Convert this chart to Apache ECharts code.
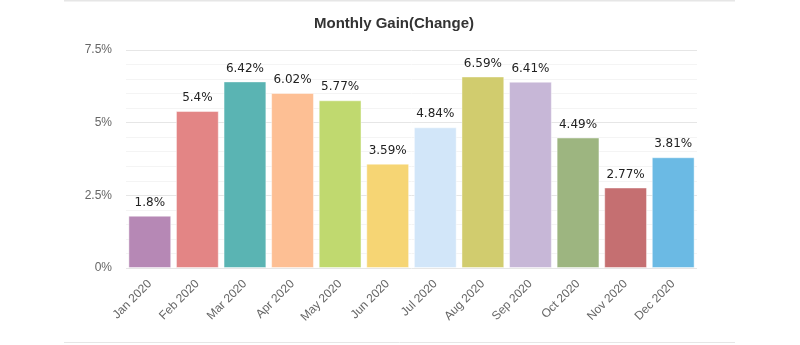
<!DOCTYPE html>
<html><head><meta charset="utf-8">
<script src="https://cdn.jsdelivr.net/npm/echarts@6/dist/echarts.min.js"></script>
<style>html,body{margin:0;padding:0;background:#fff}#c{width:800px;height:345px}</style>
</head><body><div id="c"></div>
<script>
const categories = ["Jan 2020","Feb 2020","Mar 2020","Apr 2020","May 2020","Jun 2020","Jul 2020","Aug 2020","Sep 2020","Oct 2020","Nov 2020","Dec 2020"];
const gains = [1.8, 5.4, 6.42, 6.02, 5.77, 3.59, 4.84, 6.59, 6.41, 4.49, 2.77, 3.81];
const barColors = ["#b688b5","#e38585","#5ab4b3","#fdbf94","#c0d96f","#f6d574","#d2e6f9","#d1cc6e","#c7b7d7","#9db580","#c56f71","#6bbae4"];
const yTicks = [0, 2.5, 5, 7.5];

const chart = echarts.init(document.getElementById('c'), null, {renderer:'canvas'});
chart.setOption({
  animation:false,
  title:{text:'Monthly Gain(Change)', left:309, top:11,
    textStyle:{fontFamily:'Liberation Sans, Arial', fontSize:15, fontWeight:'bold', color:'#333'}},
  graphic:[
    {type:'line', shape:{x1:64,y1:0.5,x2:735,y2:0.5}, style:{stroke:'#e6e6e6', lineWidth:2}},
    {type:'line', shape:{x1:64,y1:342.5,x2:735,y2:342.5}, style:{stroke:'#e6e6e6', lineWidth:1}}
  ],
  grid:{left:126, right:103, top:50, bottom:77},
  xAxis:{type:'category', data:categories,
    axisLine:{show:false}, axisTick:{show:false},
    axisLabel:{rotate:45, color:'#666', fontFamily:'Liberation Sans, Arial', fontSize:12, margin:14, interval:0}},
  yAxis:{type:'value', min:yTicks[0], max:yTicks[yTicks.length-1], interval:2.5,
    axisLine:{show:false}, axisTick:{show:false},
    axisLabel:{color:'#666', fontFamily:'Liberation Sans, Arial', fontSize:12, margin:14, formatter:v=>v+'%'},
    splitLine:{lineStyle:{color:'#e6e6e6', width:1}},
    minorTick:{show:false, splitNumber:5},
    minorSplitLine:{show:true, lineStyle:{color:'#f4f4f4', width:1}}},
  series:[{
    type:'bar', barCategoryGap:'10%',
    data:gains.map((v,i)=>({value:v, itemStyle:{color:barColors[i]}})),
    itemStyle:{borderColor:'rgba(255,255,255,0.45)', borderWidth:1},
    label:{show:true, position:'top', color:'#222', fontFamily:'DejaVu Sans, sans-serif', fontSize:12, distance:7, formatter:p=>p.value+'%'}
  }]
});
</script></body></html>
